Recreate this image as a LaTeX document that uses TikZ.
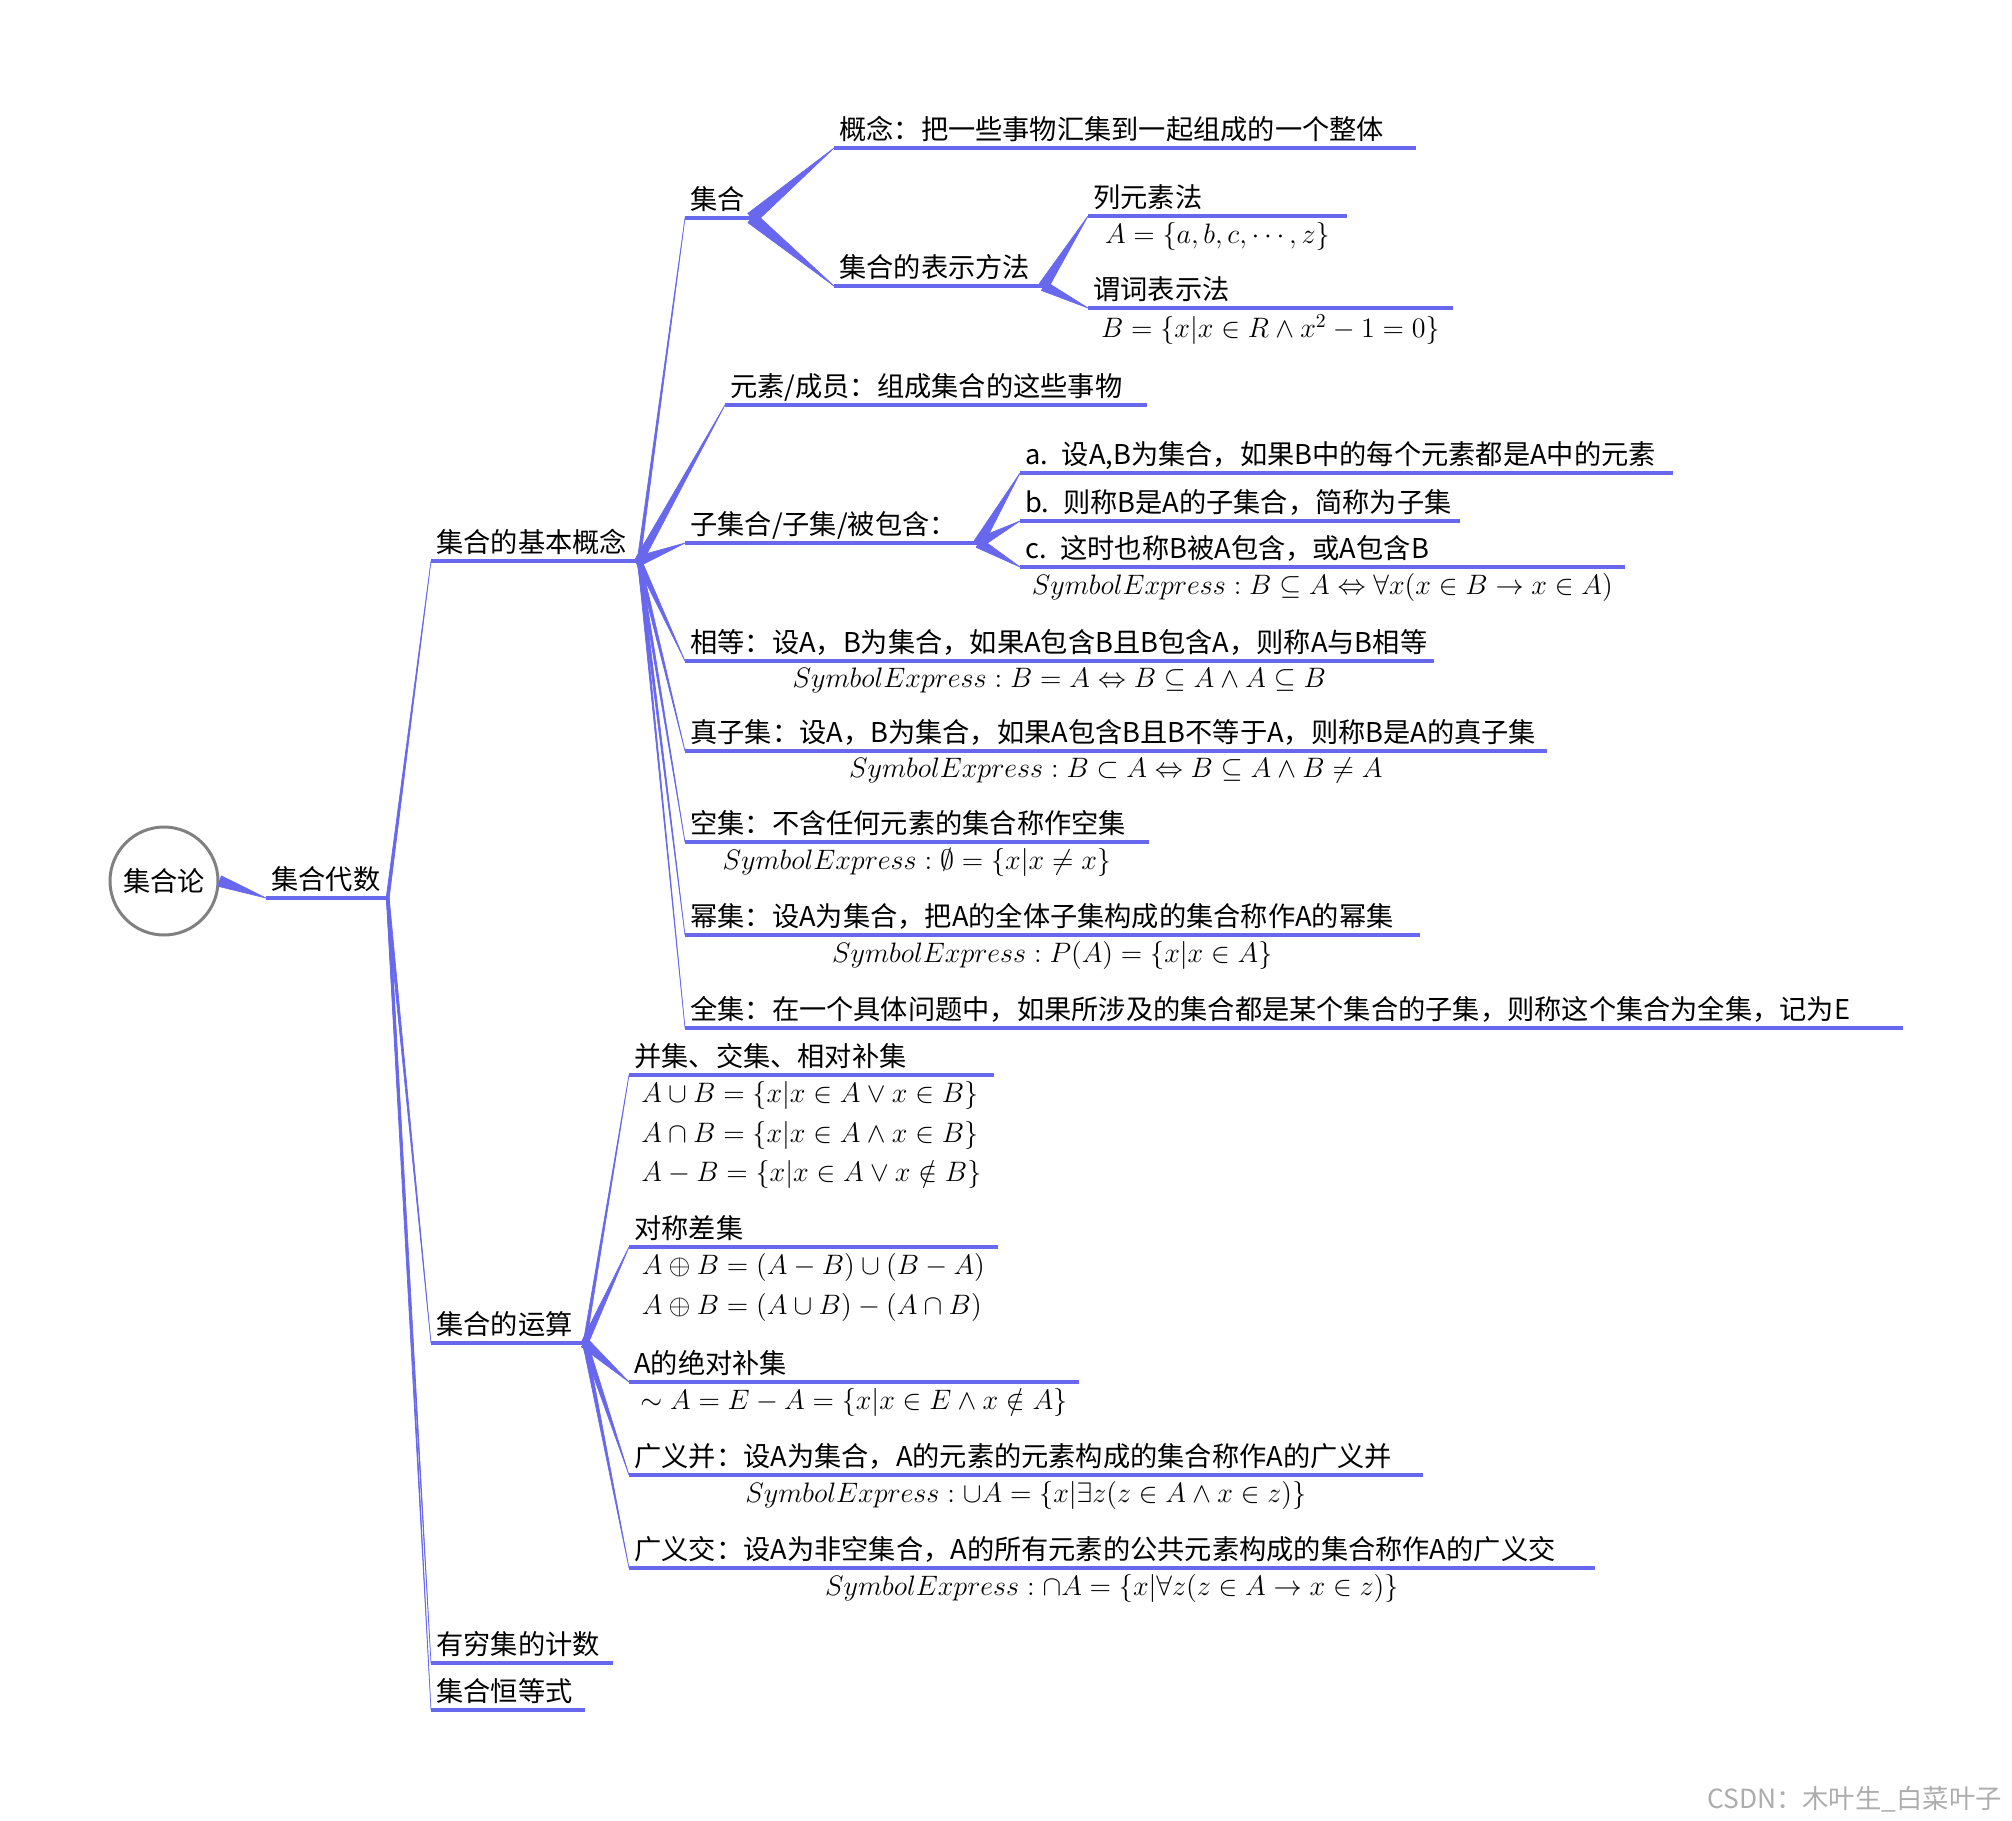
\RequirePackage{fix-cm}
\documentclass[tikz,border=0pt]{standalone}
\usepackage{fontspec}
\setmainfont{Noto Sans CJK SC}
\usetikzlibrary{calc, positioning}
\definecolor{mapblue}{RGB}{104,104,238}
\definecolor{rootgray}{RGB}{128,128,128}
\newcommand\taper[3][4]{%
  \filldraw[link] ($(#2)!#1*0.01cm!90:(#3)$) -- (#3) -- ($(#2)!#1*0.01cm!-90:(#3)$) -- cycle;}

\begin{document}
\begin{tikzpicture}[
      x=0.02cm, y=-0.02cm,
      font=\fontsize{15.5}{22.2}\selectfont,
      topic/.style={anchor=south west, align=left, inner xsep=0.1cm, inner ysep=0.1cm, text depth=0.2em},
      formula/.style={anchor=north, align=left, inner sep=0pt, font=\fontsize{16}{22.4}\selectfont},
      uline/.style={draw=mapblue, line width=1.8pt},
      link/.style={fill=mapblue, draw=mapblue, line width=0.4pt, line join=round},
      rootnode/.style={circle, draw=rootgray, line width=1.7pt, minimum size=2.16cm, inner sep=0pt},
      watermark/.style={text=black!32, font=\fontsize{15}{18}\selectfont}
    ]
    \useasboundingbox (0,0) rectangle (2012,1820);

    % centre and first level
    \node[rootnode] (root) at (164,881) {集合论};
    \node[topic, text width=2.22cm] (algebra) at (266,898) {集合代数};

    % basic notions
    \node[topic, text width=3.94cm] (basic) at (431,561) {集合的基本概念};
    \node[topic, text width=1.12cm] (sets) at (685,218) {集合};
    \node[topic, text width=11.42cm] (concept) at (834,148) {概念：把一些事物汇集到一起组成的一个整体};
    \node[topic, text width=3.98cm] (repr) at (834,286) {集合的表示方法};
    \node[topic, text width=4.96cm] (roster) at (1088,216) {列元素法};
    \node[formula, below=0.13cm of roster.south] (rosterf) {$A=\{a,b,c,\cdots,z\}$};
    \node[topic, text width=7.08cm] (pred) at (1088,308) {谓词表示法};
    \node[formula, below=0.13cm of pred.south] (predf) {$B=\{x|x\in R\wedge x^2-1=0\}$};
    \node[topic, text width=8.22cm] (member) at (725,405) {元素/成员：组成集合的这些事物};
    \node[topic, text width=5.66cm] (subset) at (685,543) {子集合/子集/被包含：};
    \node[topic, text width=12.84cm] (suba) at (1020,473) {a. 设A,B为集合，如果B中的每个元素都是A中的元素};
    \node[topic, text width=8.58cm] (subb) at (1020,521) {b. 则称B是A的子集合，简称为子集};
    \node[topic, text width=11.88cm] (subc) at (1020,567) {c. 这时也称B被A包含，或A包含B};
    \node[formula, below=0.13cm of subc.south] (subcf) {$SymbolExpress:B\subseteq A\Leftrightarrow\forall x(x\in B\rightarrow x\in A)$};
    \node[topic, text width=14.76cm] (equal) at (685,661) {相等：设A，B为集合，如果A包含B且B包含A，则称A与B相等};
    \node[formula, below=0.13cm of equal.south] (equalf) {$SymbolExpress:B=A\Leftrightarrow B\subseteq A\wedge A\subseteq B$};
    \node[topic, text width=17.02cm] (proper) at (685,751) {真子集：设A，B为集合，如果A包含B且B不等于A，则称B是A的真子集};
    \node[formula, below=0.13cm of proper.south] (properf) {$SymbolExpress:B\subset A\Leftrightarrow B\subseteq A\wedge B\neq A$};
    \node[topic, text width=9.06cm] (empty) at (685,842) {空集：不含任何元素的集合称作空集};
    \node[formula, below=0.13cm of empty.south] (emptyf) {$SymbolExpress:\emptyset=\{x|x\neq x\}$};
    \node[topic, text width=14.48cm] (power) at (685,935) {幂集：设A为集合，把A的全体子集构成的集合称作A的幂集};
    \node[formula, below=0.13cm of power.south] (powerf) {$SymbolExpress:P(A)=\{x|x\in A\}$};
    \node[topic, text width=24.16cm] (universe) at (685,1028) {全集：在一个具体问题中，如果所涉及的集合都是某个集合的子集，则称这个集合为全集，记为E};

    % operations
    \node[topic, text width=2.86cm] (ops) at (431,1343) {集合的运算};
    \node[topic, text width=7.08cm] (basicops) at (629,1075) {并集、交集、相对补集};
    \node[formula, below=0.13cm of basicops.south] (basicopsf) {$A\cup B=\{x|x\in A\vee x\in B\}$\\$A\cap B=\{x|x\in A\wedge x\in B\}$\\$A-B=\{x|x\in A\vee x\notin B\}$};
    \node[topic, text width=7.16cm] (symdiff) at (629,1247) {对称差集};
    \node[formula, below=0.13cm of symdiff.south] (symdifff) {$A\oplus B=(A-B)\cup(B-A)$\\$A\oplus B=(A\cup B)-(A\cap B)$};
    \node[topic, text width=8.78cm] (abscomp) at (629,1382) {A的绝对补集};
    \node[formula, below=0.13cm of abscomp.south] (abscompf) {$\sim A=E-A=\{x|x\in E\wedge x\notin A\}$};
    \node[topic, text width=15.66cm] (gunion) at (629,1475) {广义并：设A为集合，A的元素的元素构成的集合称作A的广义并};
    \node[formula, below=0.13cm of gunion.south] (gunionf) {$SymbolExpress:\cup A=\{x|\exists z(z\in A\wedge x\in z)\}$};
    \node[topic, text width=19.10cm] (ginter) at (629,1568) {广义交：设A为非空集合，A的所有元素的公共元素构成的集合称作A的广义交};
    \node[formula, below=0.13cm of ginter.south] (ginterf) {$SymbolExpress:\cap A=\{x|\forall z(z\in A\rightarrow x\in z)\}$};

    \node[topic, text width=3.42cm] (finite) at (431,1663) {有穷集的计数};
    \node[topic, text width=2.86cm] (ident) at (431,1710) {集合恒等式};

    % underlines
    \foreach \n in {algebra, basic, sets, concept, repr, roster, pred, member, subset, suba, subb, subc,
        equal, proper, empty, power, universe, ops, basicops, symdiff, abscomp, gunion, ginter, finite, ident}
      \draw[uline] (\n.south west) -- (\n.south east);

    % tapered links
    \foreach \a/\b/\w in {root.east/algebra.south west/11,
        algebra.south east/basic.south west/3, algebra.south east/ops.south west/3,
        algebra.south east/finite.south west/2.5, algebra.south east/ident.south west/2.5,
        basic.south east/sets.south west/3, basic.south east/member.south west/8,
        basic.south east/subset.south west/10, basic.south east/equal.south west/6,
        basic.south east/proper.south west/4, basic.south east/empty.south west/3,
        basic.south east/power.south west/3, basic.south east/universe.south west/2,
        sets.south east/concept.south west/12, sets.south east/repr.south west/12,
        repr.south east/roster.south west/10, repr.south east/pred.south west/10,
        subset.south east/suba.south west/10, subset.south east/subb.south west/10,
        subset.south east/subc.south west/10,
        ops.south east/basicops.south west/3, ops.south east/symdiff.south west/7,
        ops.south east/abscomp.south west/10, ops.south east/gunion.south west/6,
        ops.south east/ginter.south west/4}
      {\taper[\w]{\a}{\b}}

    \node[watermark, anchor=south east] (csdn) at (2008,1818) {CSDN：木叶生\_白菜叶子};
  \end{tikzpicture}
\end{document}
